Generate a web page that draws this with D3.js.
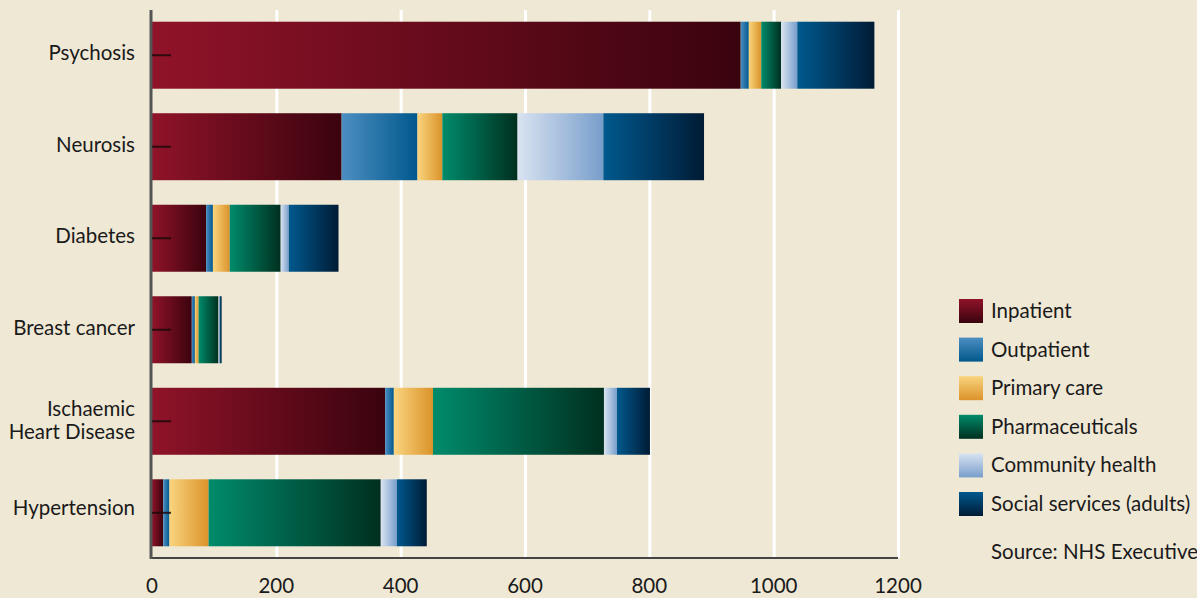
<!DOCTYPE html>
<meta charset="utf-8">
<style>
    body { margin: 0; background: #efe8d5; }
    text {
        font-family: Lato, "Open Sans", sans-serif;
        fill: #1a1a1a;
        font-size: 20.5px;
    }
    .grid line { stroke: #fff; stroke-width: 3px; }
    .grid path { display: none; }
</style>
<body>
    <svg width="1197" height="598"></svg>
</body>
<script src="https://d3js.org/d3.v7.min.js"></script>
<script>

    // data (costs per condition)
    var conditions = ["Psychosis", "Neurosis", "Diabetes", "Breast cancer", "Ischaemic Heart Disease", "Hypertension"];
    var series = ["Inpatient", "Outpatient", "Primary care", "Pharmaceuticals", "Community health", "Social services (adults)"];
    var inpatient   = [947, 305, 87, 64, 375, 18];
    var outpatient  = [13, 122, 11, 5, 14, 10];
    var primaryCare = [20, 40, 27, 6, 63, 63];
    var pharma      = [32, 121, 82, 32, 275, 277];
    var community   = [26, 138, 13, 2, 21, 26];
    var social      = [124, 162, 80, 3, 53, 48];
    var xTicks = [0, 200, 400, 600, 800, 1000, 1200];
    var source = "Source: NHS Executive";

    // gradient stops, light -> dark
    var colours = [
        ["#901329", "#3a030e"],
        ["#4d8ec2", "#00588c"],
        ["#f9d47e", "#db932a"],
        ["#008b6b", "#002f1f"],
        ["#d9e3f1", "#789ecb"],
        ["#00598e", "#001b35"]
    ];

    var rows = conditions.map(function (c, i) {
        return {
            name: c,
            "Inpatient": inpatient[i],
            "Outpatient": outpatient[i],
            "Primary care": primaryCare[i],
            "Pharmaceuticals": pharma[i],
            "Community health": community[i],
            "Social services (adults)": social[i]
        };
    });

    var svg = d3.select("svg"),
        plotTop = 10, plotBottom = 558, plotLeft = 152, plotRight = 898;

    var x = d3.scaleLinear().domain([0, 1200]).range([plotLeft, plotRight]);
    var y = d3.scaleBand().domain(conditions).range([plotTop, plotBottom])
        .paddingInner(0.268).paddingOuter(0.128);

    var defs = svg.append("defs");
    series.forEach(function (s, i) {
        var h = defs.append("linearGradient").attr("id", "h" + i)
            .attr("x1", 0).attr("x2", 1).attr("y1", 0).attr("y2", 0);
        h.append("stop").attr("offset", 0).attr("stop-color", colours[i][0]);
        h.append("stop").attr("offset", 1).attr("stop-color", colours[i][1]);
        var v = defs.append("linearGradient").attr("id", "v" + i)
            .attr("x1", 0).attr("x2", 0).attr("y1", 0).attr("y2", 1);
        v.append("stop").attr("offset", 0).attr("stop-color", colours[i][0]);
        v.append("stop").attr("offset", 1).attr("stop-color", colours[i][1]);
    });

    // white vertical grid
    svg.append("g")
        .attr("class", "grid")
        .attr("transform", "translate(0," + plotBottom + ")")
        .call(d3.axisBottom(x).tickValues(xTicks.slice(1)).tickSize(-(plotBottom - plotTop)).tickFormat(""));

    // stacked bars
    var stacked = d3.stack().keys(series)(rows);
    svg.append("g").selectAll("g")
        .data(stacked)
        .enter().append("g")
        .attr("fill", function (d, i) { return "url(#h" + i + ")"; })
        .selectAll("rect")
        .data(function (d) { return d; })
        .enter().append("rect")
        .attr("x", function (d) { return x(d[0]); })
        .attr("y", function (d) { return y(d.data.name); })
        .attr("width", function (d) { return x(d[1]) - x(d[0]); })
        .attr("height", y.bandwidth());

    // axis lines
    svg.append("line")
        .attr("x1", plotLeft).attr("x2", plotRight).attr("y1", plotBottom).attr("y2", plotBottom)
        .attr("stroke", "#444").attr("stroke-width", 2);
    svg.append("line")
        .attr("x1", plotLeft - 1).attr("x2", plotLeft - 1).attr("y1", plotTop).attr("y2", plotBottom + 1)
        .attr("stroke", "#555").attr("stroke-width", 3);

    // little tick marks on the bars
    svg.append("g").selectAll("line")
        .data(conditions)
        .enter().append("line")
        .attr("x1", plotLeft).attr("x2", plotLeft + 19)
        .attr("y1", function (d) { return y(d) + y.bandwidth() / 2; })
        .attr("y2", function (d) { return y(d) + y.bandwidth() / 2; })
        .attr("stroke", "#1c0a0a").attr("stroke-width", 2).attr("opacity", 0.85);

    // category labels
    svg.append("g").selectAll("text")
        .data(conditions)
        .enter().append("text")
        .attr("x", 135)
        .attr("y", function (d) { return y(d) + y.bandwidth() / 2; })
        .style("text-anchor", "end")
        .each(function (d, i) {
            var t = d3.select(this);
            var parts = d == "Ischaemic Heart Disease" ? ["Ischaemic", "Heart Disease"] : [d];
            parts.forEach(function (p, k) {
                t.append("tspan")
                    .attr("x", 135)
                    .attr("dy", k == 0 ? (parts.length == 1 ? (i == conditions.length - 1 ? 2 : 5) : -5) : 23)
                    .text(p);
            });
        });

    // x tick labels
    svg.append("g").selectAll("text")
        .data(xTicks)
        .enter().append("text")
        .attr("x", function (d) { return x(d); })
        .attr("y", 593)
        .style("text-anchor", "middle")
        .text(function (d) { return d; });

    // legend
    var legend = svg.append("g").selectAll("g")
        .data(series)
        .enter().append("g")
        .attr("transform", function (d, i) { return "translate(959," + (299 + i * 38.6) + ")"; });
    legend.append("rect")
        .attr("width", 24).attr("height", 24)
        .attr("fill", function (d, i) { return "url(#v" + i + ")"; });
    legend.append("text")
        .attr("x", 32).attr("y", 19)
        .text(function (d) { return d; });

    svg.append("text")
        .attr("x", 991).attr("y", 559)
        .style("font-size", "20.5px")
        .text(source);
</script>
